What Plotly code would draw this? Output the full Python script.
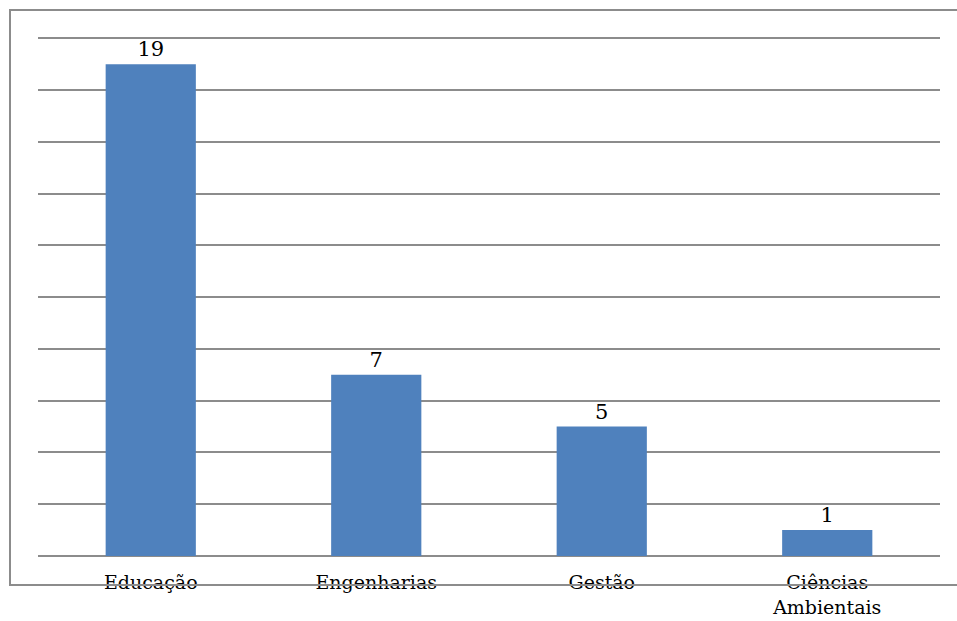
import plotly.graph_objects as go

categories = ["Educação", "Engenharias", "Gestão", "Ciências<br>Ambientais"]
values = [19, 7, 5, 1]
value_labels = ["19", "7", "5", "1"]

FONT = "DejaVu Serif"

fig = go.Figure(
    go.Bar(
        x=categories,
        y=values,
        text=value_labels,
        textposition="outside",
        cliponaxis=False,
        textfont=dict(family=FONT, size=21, color="#000000"),
        marker=dict(color="#4F81BD", line=dict(width=0)),
        width=0.4,
    )
)

W, H = 957, 621
L, R, T, B = 38, 17, 28, 65
pw, ph = W - L - R, H - T - B

def px_x(x):
    return (x - L) / pw

def px_y(y):
    return (H - B - y) / ph

fig.update_layout(
    width=W,
    height=H,
    margin=dict(l=L, r=R, t=T, b=B),
    paper_bgcolor="white",
    plot_bgcolor="white",
    showlegend=False,
    font=dict(family=FONT, size=19, color="#000000"),
    xaxis=dict(
        showgrid=False,
        showline=False,
        zeroline=False,
        ticks="",
        automargin=False,
        ticklabelstandoff=13,
        tickfont=dict(family=FONT, size=19, color="#000000"),
    ),
    yaxis=dict(
        range=[0, 20.4],
        tickvals=[0, 2, 4, 6, 8, 10, 12, 14, 16, 18, 20],
        showgrid=True,
        gridcolor="#8C8C8C",
        gridwidth=2,
        zeroline=True,
        zerolinecolor="#8C8C8C",
        zerolinewidth=2,
        showticklabels=False,
        ticks="",
        showline=False,
        automargin=False,
    ),
    shapes=[
        dict(
            type="rect",
            xref="paper",
            yref="paper",
            x0=px_x(10),
            x1=px_x(962),
            y0=px_y(585),
            y1=px_y(10),
            line=dict(color="#8C8C8C", width=2),
            fillcolor="rgba(0,0,0,0)",
            layer="above",
        )
    ],
)

fig.write_html("out.html")
